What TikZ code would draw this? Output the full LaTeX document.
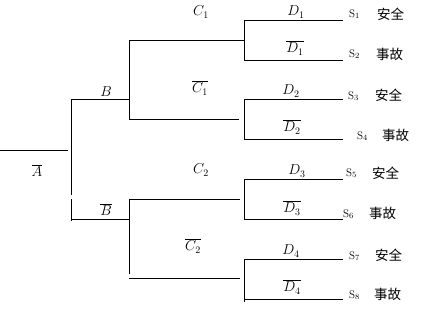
\documentclass[tikz,border=0pt]{standalone}
\usepackage{fontspec}
\newfontfamily\cjk{Noto Sans CJK SC}
\begin{document}
\begin{tikzpicture}[x=1pt,y=-1pt,
  ln/.style={line width=0.9pt},
  lab/.style={inner sep=0pt,font=\fontsize{14}{16}\selectfont},
  slab/.style={inner sep=0pt,anchor=west,font=\fontsize{11}{12}\selectfont},
  zh/.style={inner sep=0pt,anchor=west,font=\cjk\fontsize{13.5}{15}\selectfont}]
\useasboundingbox (0,0) rectangle (427,309);
% coordinates
\coordinate (a0) at (0,150); \coordinate (a1) at (68,150);
\coordinate (vbT) at (71,99); \coordinate (vbM1) at (71,195);
\coordinate (vbM2) at (71,199); \coordinate (vbB) at (71,221);
\coordinate (b0) at (71,99); \coordinate (b1) at (129,99);
\coordinate (nb0) at (71,219); \coordinate (nb1) at (129,219);
\coordinate (vc1T) at (129,40); \coordinate (vc1B) at (129,119);
\coordinate (c1e) at (244,40); \coordinate (nc1e) at (239,119);
\coordinate (vc2T) at (129,199); \coordinate (vc2B) at (129,274);
\coordinate (nc2s) at (129,278);
\coordinate (c2e) at (240,199); \coordinate (nc2e) at (240,278);
\coordinate (d1s) at (244,20); \coordinate (d1e) at (343,20);
\coordinate (nd1s) at (244,60); \coordinate (nd1e) at (343,60);
\coordinate (d2s) at (244,99); \coordinate (d2e) at (343,99);
\coordinate (nd2s) at (244,139); \coordinate (nd2e) at (343,139);
\coordinate (d3s) at (244,179); \coordinate (d3e) at (343,179);
\coordinate (nd3s) at (244,219); \coordinate (nd3e) at (343,219);
\coordinate (d4s) at (244,259); \coordinate (d4e) at (343,259);
\coordinate (nd4s) at (244,302); \coordinate (nd4e) at (343,299);
\coordinate (nd4l) at (244,299);
% lines
\draw[ln] (a0) -- (a1);
\draw[ln] (vbT) -- (vbM1);
\draw[ln] (vbM2) -- (vbB);
\draw[ln] (b0) -- (b1);
\draw[ln] (nb0) -- (nb1);
\draw[ln] (vc1T) -- (vc1B);
\draw[ln] (vc1T) -- (c1e);
\draw[ln] (vc1B) -- (nc1e);
\draw[ln] (vc2T) -- (vc2B);
\draw[ln] (vc2T) -- (c2e);
\draw[ln] (nc2s) -- (nc2e);
\draw[ln] (d1s) -- (nd1s);
\draw[ln] (d1s) -- (d1e);
\draw[ln] (nd1s) -- (nd1e);
\draw[ln] (d2s) -- (nd2s);
\draw[ln] (d2s) -- (d2e);
\draw[ln] (nd2s) -- (nd2e);
\draw[ln] (d3s) -- (nd3s);
\draw[ln] (d3s) -- (d3e);
\draw[ln] (nd3s) -- (nd3e);
\draw[ln] (d4s) -- (nd4s);
\draw[ln] (d4s) -- (d4e);
\draw[ln] (nd4l) -- (nd4e);
% branch labels
\node[lab] (lA) at (37,171) {$\overline{A}$};
\node[lab] (lB) at (106,92) {$B$};
\node[lab] (lnB) at (106,210) {$\overline{B}$};
\node[lab] (lC1) at (201,12) {$C_1$};
\node[lab] (lnC1) at (200,88) {$\overline{C_1}$};
\node[lab] (lC2) at (201,170) {$C_2$};
\node[lab] (lnC2) at (193,246) {$\overline{C_2}$};
\node[lab] (lD1) at (296,12) {$D_1$};
\node[lab] (lnD1) at (295,48) {$\overline{D_1}$};
\node[lab] (lD2) at (291,91) {$D_2$};
\node[lab] (lnD2) at (292,127) {$\overline{D_2}$};
\node[lab] (lD3) at (297,171) {$D_3$};
\node[lab] (lnD3) at (292,208) {$\overline{D_3}$};
\node[lab] (lD4) at (291,251) {$D_4$};
\node[lab] (lnD4) at (292,287) {$\overline{D_4}$};
% outcomes
\node[slab] (s1) at (349,14) {S$_1$};
\node[zh] (z1) at (377,14) {安全};
\node[slab] (s2) at (349,54) {S$_2$};
\node[zh] (z2) at (376,54) {事故};
\node[slab] (s3) at (348,96) {S$_3$};
\node[zh] (z3) at (375,95) {安全};
\node[slab] (s4) at (357,136) {S$_4$};
\node[zh] (z4) at (382,135) {事故};
\node[slab] (s5) at (346,173) {S$_5$};
\node[zh] (z5) at (372,173) {安全};
\node[slab] (s6) at (343,214) {S$_6$};
\node[zh] (z6) at (369,213) {事故};
\node[slab] (s7) at (349,256) {S$_7$};
\node[zh] (z7) at (375,255) {安全};
\node[slab] (s8) at (349,295) {S$_8$};
\node[zh] (z8) at (374,294) {事故};
\end{tikzpicture}
\end{document}
